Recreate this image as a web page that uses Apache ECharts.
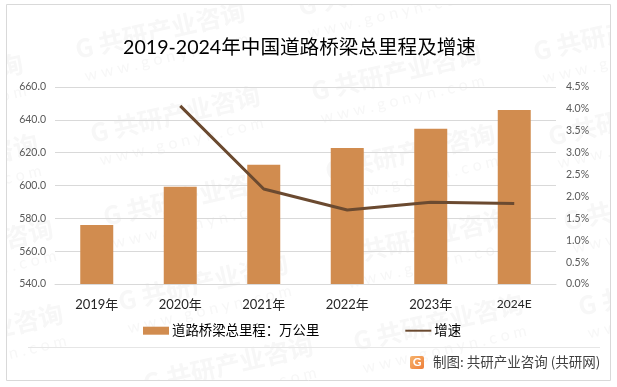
<!DOCTYPE html>
<html><head><meta charset="utf-8">
<style>html,body{margin:0;padding:0;background:#fff}#c{width:617px;height:387px}</style>
<script src="https://cdn.jsdelivr.net/npm/echarts@6/dist/echarts.min.js"></script>
</head><body><div id="c"></div>
<script>
const categories = ['2019年','2020年','2021年','2022年','2023年','2024E'];
const mileage = [576.0, 599.2, 612.6, 622.9, 634.5, 646.0];
const growth = [null, 4.07, 2.17, 1.69, 1.87, 1.84];
const titleText = '2019-2024年中国道路桥梁总里程及增速';
const sourceText = '制图: 共研产业咨询 (共研网)';
const barName = '道路桥梁总里程：万公里';
const lineName = '增速';
const marks = [[162,38],[177,122],[398,80],[620,40],[412,160],[635,125],[190,205],[205,290],[230,372],[425,245],[440,330],[650,210],[665,295],[-60,90],[-45,170],[-30,255],[-20,340],[385,-5]];
const FONT = 'Lato, "Noto Sans CJK SC", sans-serif';
const chart = echarts.init(document.getElementById('c'), null, {renderer:'canvas'});
const graphic = [];
marks.forEach(([x,y]) => {
  graphic.push({type:'group', x, y, rotation:13*Math.PI/180, z:0, silent:true, children:[
    {type:'text', style:{text:'G 共研产业咨询', x:0, y:-8, align:'center', verticalAlign:'middle', font:'bold 25px "Noto Sans CJK SC"', fill:'#f7f7f7'}},
    {type:'text', style:{text:'w w w . g o n y n . c o m', x:0, y:20, align:'center', verticalAlign:'middle', font:'16px Lato', fill:'#f7f7f7'}}
  ]});
});
[[0,0,6,387],[611,0,6,387],[0,0,617,4],[0,381,617,6]].forEach(([x,y,width,height]) =>
  graphic.push({type:'rect', z:1, silent:true, shape:{x,y,width,height}, style:{fill:'#fff'}}));
graphic.push(
  {type:'rect', z:1, silent:true, shape:{x:6.5,y:4.5,width:604,height:376}, style:{fill:'none',stroke:'#d9d9d9',lineWidth:1}},
  {type:'line', z:1, silent:true, shape:{x1:28,y1:347.5,x2:600,y2:347.5}, style:{stroke:'#e6e6e6',lineWidth:1}},
  {type:'rect', z:1, silent:true, shape:{x:410,y:356,width:14,height:13,r:2}, style:{fill:new echarts.graphic.LinearGradient(0,0,1,1,[{offset:0,color:'#f6b26b'},{offset:1,color:'#ee7f3a'}])}},
  {type:'text', z:2, silent:true, style:{text:'G', x:417, y:362.5, align:'center', verticalAlign:'middle', font:'bold 12px Lato', fill:'#fff'}},
  {type:'text', z:2, silent:true, style:{text:sourceText, x:433, y:362, verticalAlign:'middle', font:'13.5px "Noto Sans CJK SC"', fill:'#404040'}}
);
chart.setOption({
  animation:false,
  title:{text:titleText, left:294.5, top:33, textAlign:'center', textStyle:{fontFamily:FONT, fontSize:19.6, fontWeight:'normal', color:'#000'}},
  graphic,
  grid:{left:55, right:61, top:87, bottom:103},
  legend:{left:138, top:319, itemGap:85, itemWidth:26, itemHeight:8, textStyle:{fontFamily:FONT, fontSize:13.4, color:'#000', padding:[0,0,0,-2]},
    data:[{name:barName, icon:'rect'},{name:lineName, itemStyle:{opacity:0}}]},
  xAxis:{type:'category', data:categories, axisTick:{show:false}, axisLine:{lineStyle:{color:'#d9d9d9'}},
    axisLabel:{margin:14, fontFamily:FONT, fontSize:13, color:'#262626',
      formatter:v => v.endsWith('E') ? '{e|'+v+'}' : v,
      rich:{e:{fontFamily:FONT, fontSize:12, color:'#262626', padding:[0,0,5,0]}}}},
  yAxis:[
    {type:'value', min:540, max:660, interval:20, splitLine:{lineStyle:{color:'#d9d9d9'}}, axisLine:{show:false}, axisTick:{show:false},
     axisLabel:{margin:9, fontFamily:FONT, fontSize:10.5, color:'#595959', formatter:v=>v.toFixed(1)}},
    {type:'value', min:0, max:4.5, interval:0.5, splitLine:{show:false}, axisLine:{show:false}, axisTick:{show:false},
     axisLabel:{margin:10, fontFamily:FONT, fontSize:10.5, color:'#595959', formatter:v=>v.toFixed(1)+'%'}}
  ],
  series:[
    {name:barName, type:'bar', data:mileage, barWidth:33, itemStyle:{color:'#d18c4f'}},
    {name:lineName, type:'line', yAxisIndex:1, data:growth, symbol:'none', lineStyle:{color:'#6b4a30', width:3}, itemStyle:{color:'#6b4a30'}}
  ]
});
</script></body></html>
